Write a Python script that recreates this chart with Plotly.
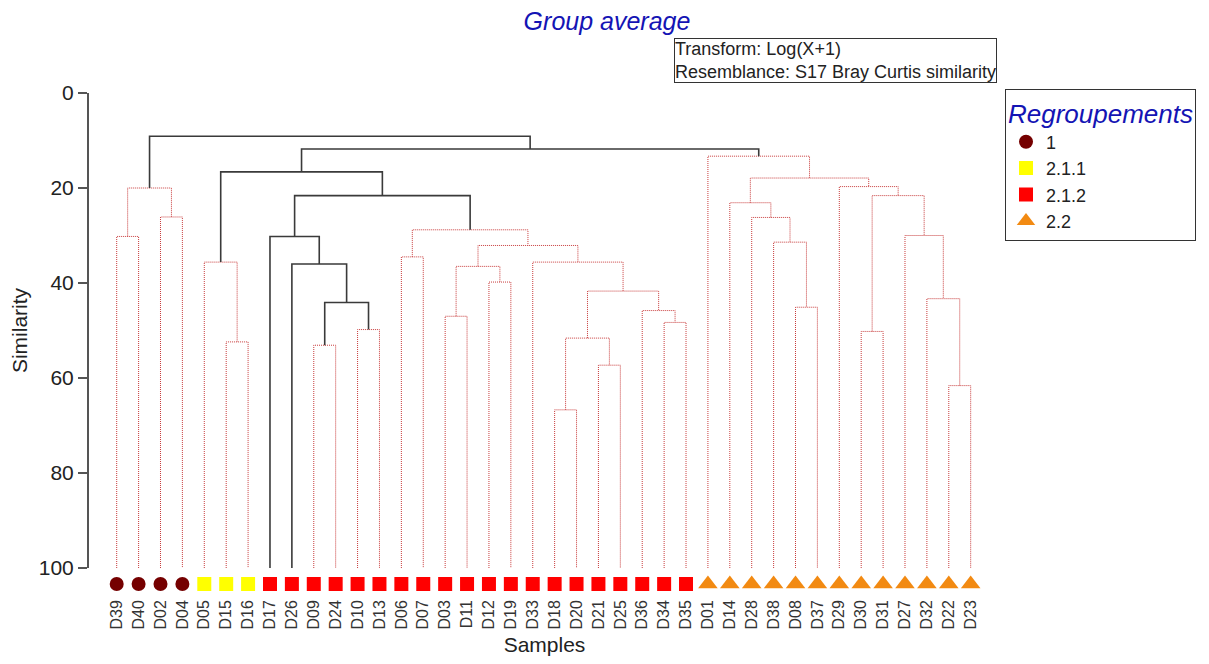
import plotly.graph_objects as go

# ---------------- data ----------------
leaves = ["D39", "D40", "D02", "D04", "D05", "D15", "D16", "D17", "D26", "D09",
          "D24", "D10", "D13", "D06", "D07", "D03", "D11", "D12", "D19", "D33",
          "D18", "D20", "D21", "D25", "D36", "D34", "D35", "D01", "D14", "D28",
          "D38", "D08", "D37", "D29", "D30", "D31", "D27", "D32", "D22", "D23"]
leaf_group = ["1"] * 4 + ["2.1.1"] * 3 + ["2.1.2"] * 20 + ["2.2"] * 13

group_names = ["1", "2.1.1", "2.1.2", "2.2"]
group_colors = ["#750000", "#FFFF00", "#FF0000", "#F28A12"]
group_symbols = ["circle", "square", "square", "triangle-up"]

# merges: node id, left child, right child, similarity, significant (SIMPROF)
merge_id = ["m1", "m2", "m3", "m4", "m5", "m6", "m7", "m8", "m9", "m10",
            "m11", "m12", "m13", "m14", "m15", "m16", "m17", "m18", "m19", "m20",
            "m21", "m22", "m23", "m24", "m25", "m26", "m27", "m28", "m29", "m30",
            "m31", "m32", "m33", "m34", "m35", "m36", "m37", "m38", "m39"]
merge_left = ["D39", "D02", "m1", "D15", "D05", "D09", "D10", "m6", "D26", "D17",
              "D06", "D03", "D12", "m12", "D18", "D21", "m15", "D34", "D36", "m17",
              "D33", "m14", "m11", "m10", "m5", "D08", "D38", "D28", "D14", "D22",
              "D32", "D27", "D30", "m33", "D29", "m29", "D01", "m25", "m3"]
merge_right = ["D40", "D04", "m2", "D16", "m4", "D24", "D13", "m7", "m8", "m9",
               "D07", "D11", "D19", "m13", "D20", "D25", "m16", "D35", "m18", "m19",
               "m20", "m21", "m22", "m23", "m24", "D37", "m26", "m27", "m28", "D23",
               "m30", "m31", "D31", "m32", "m34", "m35", "m36", "m37", "m38"]
merge_sim = [30.2, 26.1, 20.0, 52.4, 35.6, 53.1, 49.8, 44.1, 36.0, 30.2,
             34.5, 47.0, 39.8, 36.5, 66.7, 57.3, 51.6, 48.3, 45.8, 41.7,
             35.6, 32.1, 28.8, 21.6, 16.6, 45.1, 31.4, 26.2, 23.1, 61.6,
             43.3, 30.0, 50.2, 21.6, 19.7, 17.9, 13.3, 11.8, 9.1]
merge_sig = [False, False, False, False, False, False, False, True, True, True,
             False, False, False, False, False, False, False, False, False, False,
             False, False, False, True, True, False, False, False, False, False,
             False, False, False, False, False, False, False, True, True]

y_ticks = [0, 20, 40, 60, 80, 100]

# ---------------- styling / layout constants ----------------
LEAF_LEVEL = 100
MARKER_ROW = 0.5
FONT = "Liberation Sans, Arial, sans-serif"
BLUE = "#1414B4"
OFF = 8                      # browser body margin
W, H = 1209 - OFF, 664 - OFF
# plot-area edges in page pixels
PL, PR, PT = 89, 1000, 93
P100, PMT, PB = 568, 574, 594    # 100-level, marker row top, marker row bottom
spacing = 21.897
x0 = 116.7
xr = [(PL - x0) / spacing, (PR - x0) / spacing]
ph = PB - PT
pw = PR - PL

# ---------------- build dendrogram geometry ----------------
pos = {name: i for i, name in enumerate(leaves)}
height = {name: LEAF_LEVEL for name in leaves}
for mid, l, r, s in zip(merge_id, merge_left, merge_right, merge_sim):
    pos[mid] = (pos[l] + pos[r]) / 2.0
    height[mid] = s

seg = {True: ([], []), False: ([], [])}
for mid, l, r, s, sig in zip(merge_id, merge_left, merge_right, merge_sim, merge_sig):
    xs, ys = seg[sig]
    xs += [pos[l], pos[l], pos[r], pos[r], None]
    ys += [height[l], s, s, height[r], None]

fig = go.Figure()
fig.add_trace(go.Scatter(x=seg[False][0], y=seg[False][1], mode="lines",
                         line=dict(color="#C83C3C", width=1, dash="1px,1px"),
                         showlegend=False, hoverinfo="skip"))
fig.add_trace(go.Scatter(x=seg[True][0], y=seg[True][1], mode="lines",
                         line=dict(color="#3A3A3A", width=1.6),
                         showlegend=False, hoverinfo="skip"))

for g, c, sym in zip(group_names, group_colors, group_symbols):
    idx = [i for i, lg in enumerate(leaf_group) if lg == g]
    fig.add_trace(go.Scatter(
        x=idx, y=[MARKER_ROW] * len(idx), mode="markers", name=g, yaxis="y3",
        marker=dict(color=c, symbol=sym, size=14 if sym != "triangle-up" else 17,
                    line=dict(width=0)),
        cliponaxis=False, hovertext=[leaves[i] for i in idx]))

# ---------------- layout ----------------
fig.update_layout(
    width=W, height=H,
    margin=dict(l=PL - OFF, r=W - (PR - OFF), t=PT - OFF, b=H - (PB - OFF), autoexpand=False),
    plot_bgcolor="white", paper_bgcolor="white",
    font=dict(family=FONT, color="#222222"),
    title=dict(text="Group average", x=(607 - OFF) / W, xanchor="center",
               y=1 - (21 - OFF) / H, yanchor="middle",
               font=dict(size=25, color=BLUE, style="italic", family=FONT)),
    xaxis=dict(range=xr, anchor="y3", showline=False, showgrid=False, zeroline=False,
               tickmode="array", tickvals=list(range(len(leaves))), ticktext=leaves,
               tickangle=-90, ticks="", ticklabelstandoff=2,
               tickfont=dict(size=16, color="#333333"),
               title=dict(text="Samples", font=dict(size=21, color="#222222"), standoff=8)),
    yaxis=dict(domain=[(PB - P100) / ph, 1], range=[LEAF_LEVEL, 0], anchor="x",
               showline=True, linecolor="#555555", linewidth=2,
               showgrid=False, zeroline=False, tickmode="array", tickvals=y_ticks,
               ticks="outside", ticklen=9, tickwidth=2, tickcolor="#555555",
               tickfont=dict(size=21, color="#222222"),
               title=dict(text="Similarity", font=dict(size=21, color="#222222"), standoff=6)),
    yaxis2=dict(range=[LEAF_LEVEL, 0], overlaying="y", anchor="x", side="left",
                showline=False, showgrid=False, zeroline=False, tickmode="array",
                tickvals=y_ticks, ticks="inside", ticklen=9, tickwidth=2,
                tickcolor="#555555", showticklabels=False),
    yaxis3=dict(domain=[0, (PB - PMT) / ph], range=[0, 1], anchor="x",
                showline=False, showgrid=False, zeroline=False, ticks="",
                showticklabels=False, fixedrange=True),
    legend=dict(x=(1005 - PL) / pw, y=(PB - 88.7) / ph, xanchor="left", yanchor="top",
                bordercolor="#333333", borderwidth=1, bgcolor="white",
                font=dict(size=18, color="#222222", family=FONT),
                title=dict(text="Regroupements",
                           font=dict(size=26, color=BLUE, style="italic", family=FONT)),
                tracegroupgap=0, itemwidth=30),
    annotations=[dict(
        text="Transform: Log(X+1)<br>Resemblance: S17 Bray Curtis similarity",
        xref="paper", yref="paper", x=(674 - PL) / pw, y=(PB - 38) / ph,
        xanchor="left", yanchor="top", align="left", showarrow=False,
        font=dict(size=18, color="#222222", family=FONT),
        bordercolor="#333333", borderwidth=1, borderpad=0, bgcolor="white")],
    showlegend=True,
)

fig.write_html("out.html")
